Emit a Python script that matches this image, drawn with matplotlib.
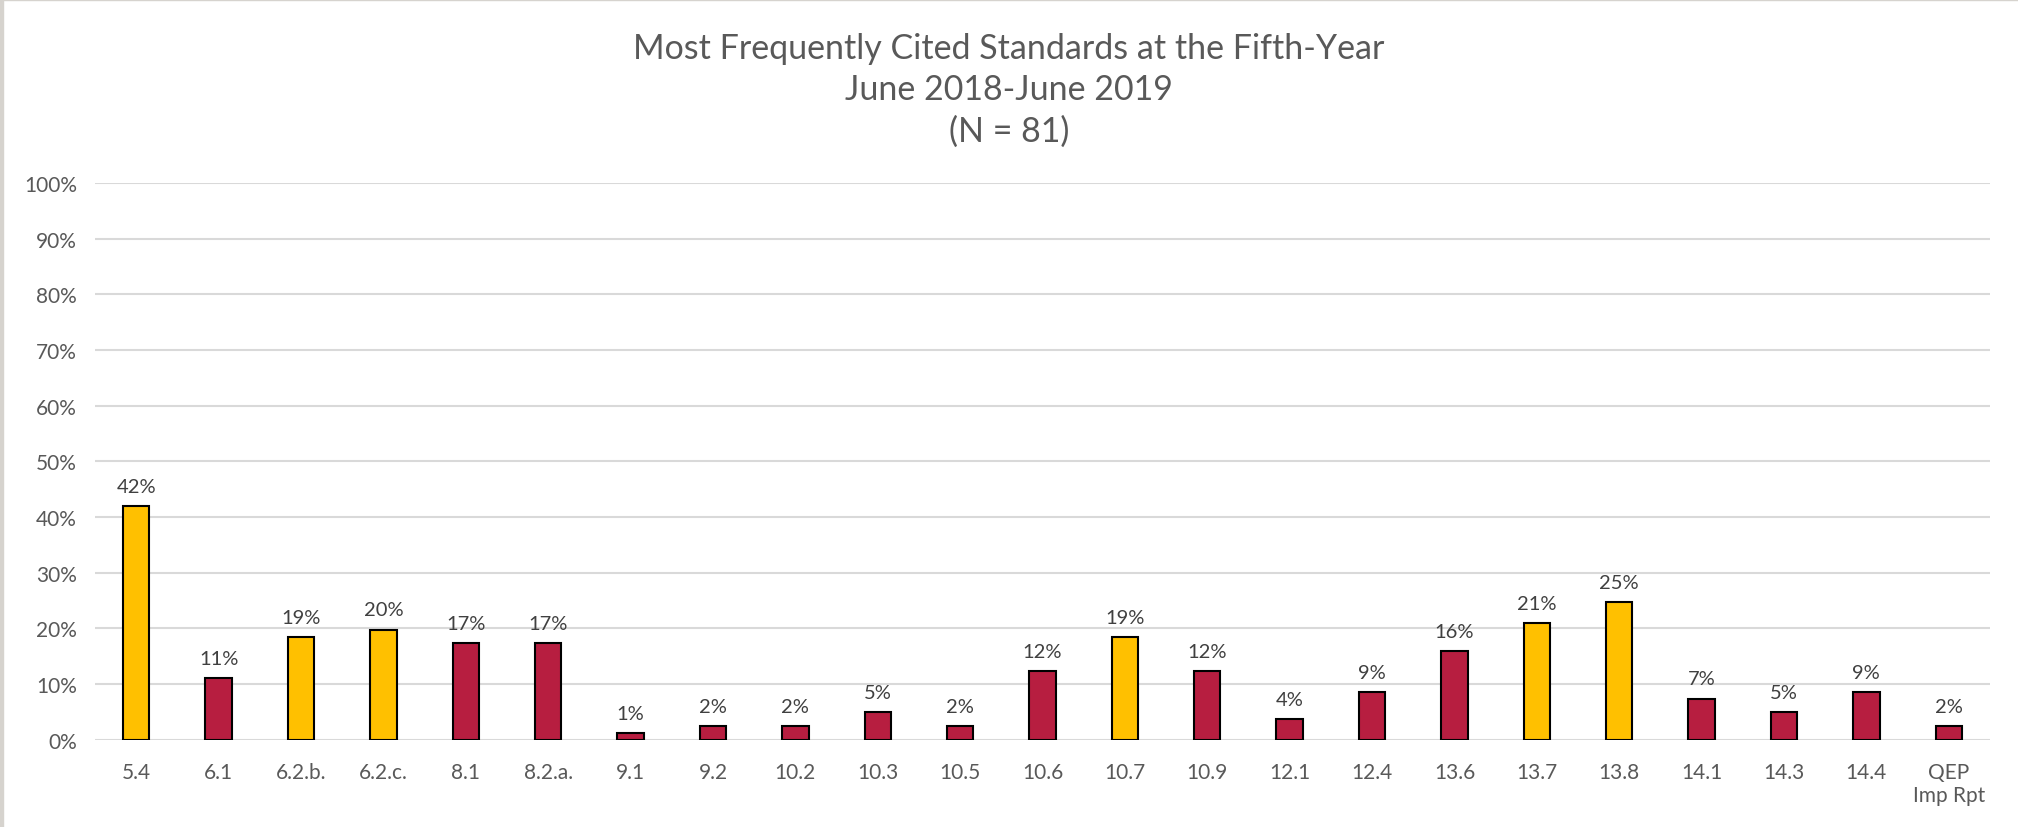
import matplotlib
matplotlib.use("Agg")
import matplotlib.pyplot as plt
from matplotlib.ticker import PercentFormatter

# standards cited and share of the 81 institutions
standards = ["5.4", "6.1", "6.2.b.", "6.2.c.", "8.1", "8.2.a.", "9.1", "9.2",
             "10.2", "10.3", "10.5", "10.6", "10.7", "10.9", "12.1", "12.4",
             "13.6", "13.7", "13.8", "14.1", "14.3", "14.4", "QEP\nImp Rpt"]
shares = [0.420, 0.111, 0.185, 0.198, 0.173, 0.173, 0.012, 0.025,
          0.025, 0.049, 0.025, 0.123, 0.185, 0.123, 0.037, 0.086,
          0.160, 0.210, 0.247, 0.074, 0.049, 0.086, 0.025]
labels = ["42%", "11%", "19%", "20%", "17%", "17%", "1%", "2%",
          "2%", "5%", "2%", "12%", "19%", "12%", "4%", "9%",
          "16%", "21%", "25%", "7%", "5%", "9%", "2%"]
highlight = ["5.4", "6.2.b.", "6.2.c.", "10.7", "13.7", "13.8"]

gold = "#FFC000"
red = "#B71E40"
grey_txt = "#595959"

plt.rcParams["font.family"] = ["Lato", "DejaVu Sans"]

fig = plt.figure(figsize=(20.18, 8.28), dpi=100)
ax = fig.add_axes([0.0471, 0.1054, 0.939, 0.6723])

colors = [gold if s in highlight else red for s in standards]
x = range(len(standards))
bars = ax.bar(x, shares, width=0.32, color=colors, edgecolor="black",
              linewidth=1.5, zorder=3)

for b, lab in zip(bars, labels):
    ax.annotate(lab, (b.get_x() + b.get_width() / 2, b.get_height()),
                xytext=(0, 8), textcoords="offset points",
                ha="center", va="bottom", fontsize=14.5, color="#404040")

ax.set_ylim(0, 1)
ax.set_xlim(-0.5, 22.5)
ax.set_yticks([i / 10 for i in range(11)])
ax.yaxis.set_major_formatter(PercentFormatter(1.0, decimals=0))
ax.set_xticks(list(x))
ax.set_xticklabels(standards)
ax.tick_params(axis="both", length=0, labelsize=15, colors=grey_txt)
ax.tick_params(axis="x", pad=16)
ax.tick_params(axis="y", pad=13)
ax.grid(axis="y", color="#D9D9D9", linewidth=1.5, zorder=0)
for sp in ax.spines.values():
    sp.set_visible(False)

fig.text(0.5, 0.891, "Most Frequently Cited Standards at the Fifth-Year\n"
         "June 2018-June 2019\n(N = 81)", ha="center", va="center",
         fontsize=24.5, color=grey_txt, linespacing=1.36)

# thin frame on the left and top like the slide capture
fig.patches.append(plt.Rectangle((0, 0), 0.0015, 1, transform=fig.transFigure,
                                 color="#D6D3CE", zorder=10))
fig.patches.append(plt.Rectangle((0, 0.9985), 1, 0.0015, transform=fig.transFigure,
                                 color="#D6D3CE", zorder=10))

fig.savefig("out.png", dpi=100)
